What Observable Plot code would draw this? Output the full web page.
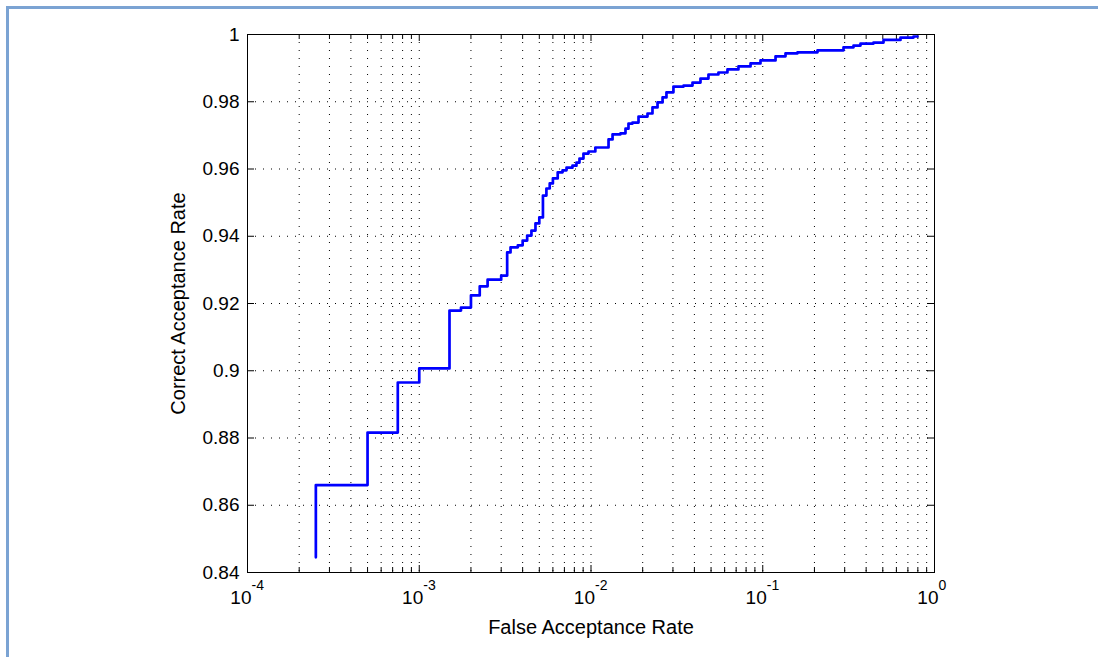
<!DOCTYPE html>
<html>
<head>
<meta charset="utf-8">
<script src="https://cdn.jsdelivr.net/npm/d3@7"></script>
<script src="https://cdn.jsdelivr.net/npm/@observablehq/plot@0.6"></script>
<style>
  html, body { margin: 0; padding: 0; background: #fff; }
  #wrap { position: relative; width: 1098px; height: 657px; overflow: hidden; }
  #border { position: absolute; left: 6px; top: 6px; width: 1100px; height: 660px;
            border-top: 3px solid #7ba3d3; border-left: 3px solid #7ba3d3; box-sizing: border-box; }
  #chart { position: absolute; left: 0; top: 0; }
</style>
</head>
<body>
<div id="wrap"><div id="border"></div><div id="chart"></div></div>
<script>
// False acceptance rate (x, log scale) at each step of the ROC curve
const far = [2.5e-4, 2.5e-4, 5e-4, 7.5e-4, 1e-3, 1.5e-3, 1.75e-3, 2e-3, 2.25e-3, 2.5e-3, 3e-3,
  3.25e-3, 3.4e-3, 3.75e-3, 4e-3, 4.25e-3, 4.5e-3, 4.75e-3, 5e-3, 5.25e-3, 5.5e-3, 5.75e-3,
  6e-3, 6.4e-3, 6.83e-3, 7.2e-3, 7.8e-3, 8.23e-3, 8.57e-3, 9.04e-3, 9.67e-3, 1.06e-2,
  1.265e-2, 1.335e-2, 1.485e-2, 1.588e-2, 1.653e-2, 1.744e-2, 1.891e-2, 2.133e-2, 2.28e-2,
  2.44e-2, 2.61e-2, 2.75e-2, 3.02e-2, 3.46e-2, 3.9e-2, 4.34e-2, 4.83e-2, 5.52e-2, 6.23e-2,
  7.22e-2, 8.49e-2, 9.7e-2, 0.1187, 0.1357, 0.1594, 0.2084, 0.2953, 0.3377, 0.3708, 0.4414,
  0.5049, 0.6339, 0.7546, 0.7962];
// Correct acceptance rate (y) after each step
const car = [0.8445, 0.866, 0.8816, 0.8965, 0.9007, 0.9179, 0.9188, 0.9224, 0.9251, 0.9271, 0.9283,
  0.9352, 0.9367, 0.9373, 0.9387, 0.9402, 0.9417, 0.9438, 0.9456, 0.9521, 0.9542, 0.9557,
  0.9572, 0.959, 0.9596, 0.9604, 0.961, 0.9619, 0.9631, 0.9646, 0.9652, 0.9664,
  0.9688, 0.9703, 0.9706, 0.972, 0.9735, 0.9738, 0.9756, 0.9765, 0.9783,
  0.9798, 0.9813, 0.9828, 0.9845, 0.9848, 0.9857, 0.9869, 0.9881, 0.9887, 0.9896,
  0.9905, 0.9914, 0.9923, 0.9935, 0.9944, 0.9947, 0.9953, 0.9962, 0.9967, 0.9973, 0.9976,
  0.9984, 0.9991, 0.9994, 0.9994];

const yTicks = [0.84, 0.86, 0.88, 0.9, 0.92, 0.94, 0.96, 0.98, 1];
const yTickLabels = ["0.84", "0.86", "0.88", "0.9", "0.92", "0.94", "0.96", "0.98", "1"];
const xMajor = [1e-4, 1e-3, 1e-2, 1e-1, 1];
const xExponents = ["-4", "-3", "-2", "-1", "0"];
const minorMultiples = [2, 3, 4, 5, 6, 7, 8, 9];
const xMinor = xMajor.slice(0, -1).flatMap(d => minorMultiples.map(m => d * m));

const xLabel = "False Acceptance Rate";
const yLabel = "Correct Acceptance Rate";

const data = far.map((x, i) => ({x, y: car[i]}));

const W = 1098, H = 657, mL = 247, mR = 164, mT = 34, mB = 85;
const fw = W - mL - mR, fh = H - mT - mB;

const chart = Plot.plot({
  width: W, height: H,
  marginLeft: mL, marginRight: mR, marginTop: mT, marginBottom: mB,
  x: {type: "log", domain: [1e-4, 1], axis: null},
  y: {domain: [0.84, 1], axis: null},
  style: {fontFamily: "'Liberation Sans', Arial, sans-serif", fontSize: "19px", color: "#000", background: "transparent", overflow: "visible"},
  marks: [
    Plot.gridX(xMinor.concat(xMajor.slice(1, -1)), {stroke: "#000", strokeOpacity: 1, strokeDasharray: "1,7"}),
    Plot.gridY(yTicks.slice(1, -1), {stroke: "#000", strokeOpacity: 1, strokeDasharray: "1,7"}),
    // inward ticks (bottom / top)
    Plot.tickX(xMajor, {x: d => d, insetTop: fh - 7, stroke: "#000"}),
    Plot.tickX(xMajor, {x: d => d, insetBottom: fh - 7, stroke: "#000"}),
    Plot.tickX(xMinor, {x: d => d, insetTop: fh - 5, stroke: "#000"}),
    Plot.tickX(xMinor, {x: d => d, insetBottom: fh - 5, stroke: "#000"}),
    // inward ticks (left / right)
    Plot.tickY(yTicks, {y: d => d, insetRight: fw - 7, stroke: "#000"}),
    Plot.tickY(yTicks, {y: d => d, insetLeft: fw - 7, stroke: "#000"}),
    Plot.line(data, {x: "x", y: "y", curve: "step-after", stroke: "#0000ff", strokeWidth: 2.7}),
    Plot.frame({stroke: "#000", strokeWidth: 1}),
    // y tick labels
    Plot.text(yTicks, {y: d => d, text: (d, i) => yTickLabels[i], frameAnchor: "left", dx: -8, textAnchor: "end", lineAnchor: "middle", fill: "#000"}),
    // x tick labels 10^n
    Plot.text(xMajor, {x: d => d, text: () => "10", frameAnchor: "bottom", dy: 25, dx: 4, textAnchor: "end", lineAnchor: "middle", fill: "#000"}),
    Plot.text(xMajor, {x: d => d, text: (d, i) => xExponents[i], frameAnchor: "bottom", dy: 13, dx: 4, textAnchor: "start", lineAnchor: "middle", fontSize: 14, fill: "#000"}),
    // axis titles
    Plot.text([xLabel], {text: d => d, frameAnchor: "bottom", dy: 55, textAnchor: "middle", lineAnchor: "middle", fontSize: 20, fill: "#000"}),
    Plot.text([yLabel], {text: d => d, frameAnchor: "left", dx: -69, rotate: -90, textAnchor: "middle", lineAnchor: "middle", fontSize: 20, fill: "#000"})
  ]
});
document.getElementById("chart").appendChild(chart);
</script>
</body>
</html>
